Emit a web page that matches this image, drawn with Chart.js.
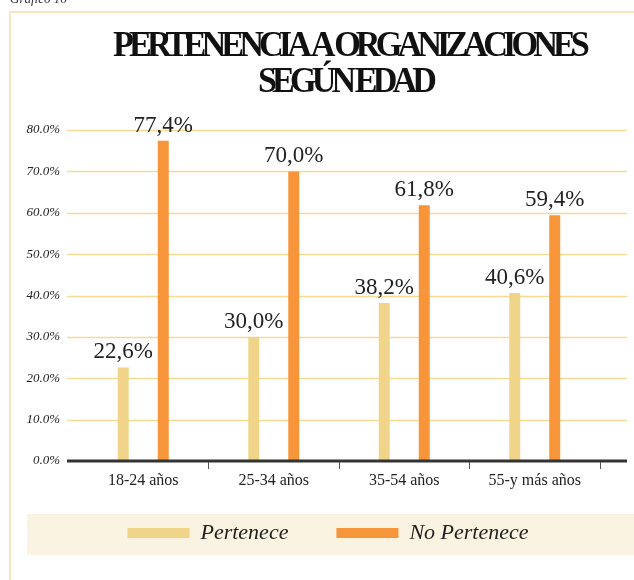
<!DOCTYPE html>
<html>
<head>
<meta charset="utf-8">
<script src="https://cdn.jsdelivr.net/npm/chart.js@4/dist/chart.umd.min.js"></script>
<style>
  html, body { margin: 0; padding: 0; background: #fff; }
  #wrap { position: relative; width: 634px; height: 580px; }
</style>
</head>
<body>
<div id="wrap"><canvas id="chart"></canvas></div>
<script>
// data
const categories = ['18-24 años', '25-34 años', '35-54 años', '55-y más años'];
const pertenece = [22.6, 30.0, 38.2, 40.6];
const noPertenece = [77.4, 70.0, 61.8, 59.4];
const seriesNames = ['Pertenece', 'No Pertenece'];
const yMax = 80;
const yStep = 10;
const titleLines = ['PERTENENCIA A ORGANIZACIONES', 'SEGÚN EDAD'];
const captionText = 'Gráfico 16';

const yellow = '#f0d48a';
const orange = '#f6953a';

// frame, legend band, caption and the squeezed title
const backdrop = {
  id: 'backdrop',
  afterLayout(chart) {
    // nudge the legend onto its band
    const lg = chart.legend;
    lg.left += 18;
    lg.right += 18;
    lg.top -= 19;
    lg.bottom -= 19;
  },
  beforeDraw(chart) {
    const ctx = chart.ctx;
    ctx.save();
    ctx.fillStyle = '#fff';
    ctx.fillRect(0, 0, chart.width, chart.height);

    ctx.strokeStyle = '#f7e6bd';
    ctx.lineWidth = 2;
    ctx.beginPath();
    ctx.moveTo(10, chart.height);
    ctx.lineTo(10, 12);
    ctx.lineTo(chart.width, 12);
    ctx.stroke();

    ctx.fillStyle = '#faf3e1';
    ctx.fillRect(27, 514, chart.width - 27, 41);

    ctx.fillStyle = '#333';
    ctx.font = 'italic 13px "Liberation Serif"';
    ctx.textBaseline = 'alphabetic';
    ctx.fillText(captionText, 10, 3);

    // title: heavy, tightly packed capitals
    const spots = [{ left: 113, right: 585, base: 56 }, { left: 258, right: 432, base: 92 }];
    ctx.fillStyle = '#111';
    ctx.font = 'bold 35px "Liberation Serif"';
    ctx.letterSpacing = '-5px';
    titleLines.forEach((line, i) => {
      const s = spots[i];
      const w = ctx.measureText(line).width;
      const sx = (s.right - s.left) / w;
      ctx.save();
      ctx.translate(s.left, s.base);
      ctx.scale(sx, 1);
      ctx.fillText(line, 0, 0);
      ctx.restore();
    });
    ctx.restore();
  },
  beforeDatasetsDraw(chart) {
    const ctx = chart.ctx;
    const y = chart.scales.y;
    ctx.save();
    ctx.strokeStyle = '#f5da92';
    ctx.lineWidth = 1.5;
    y.ticks.forEach(t => {
      if (t.value === 0) return;
      const py = Math.round(y.getPixelForValue(t.value)) + 0.5;
      ctx.beginPath();
      ctx.moveTo(67, py);
      ctx.lineTo(627, py);
      ctx.stroke();
    });
    ctx.restore();
  },
  afterDatasetsDraw(chart) {
    const ctx = chart.ctx;
    const y = chart.scales.y;
    ctx.save();
    // base line
    const py0 = y.getPixelForValue(0);
    ctx.strokeStyle = '#333';
    ctx.lineWidth = 3;
    ctx.beginPath();
    ctx.moveTo(67, py0);
    ctx.lineTo(627, py0);
    ctx.stroke();

    // value labels over the bars
    ctx.fillStyle = '#222';
    ctx.font = '23px "Liberation Serif"';
    ctx.textAlign = 'center';
    ctx.textBaseline = 'alphabetic';
    chart.data.datasets.forEach((ds, di) => {
      chart.getDatasetMeta(di).data.forEach((bar, i) => {
        const txt = ds.data[i].toFixed(1).replace('.', ',') + '%';
        ctx.fillText(txt, bar.x, bar.y - 9);
      });
    });
    ctx.restore();
  }
};

new Chart(document.getElementById('chart'), {
  type: 'bar',
  data: {
    labels: categories,
    datasets: [{
      label: seriesNames[0],
      data: pertenece,
      backgroundColor: yellow,
      borderWidth: 0
    }, {
      label: seriesNames[1],
      data: noPertenece,
      backgroundColor: orange,
      borderWidth: 0
    }]
  },
  options: {
    responsive: true,
    maintainAspectRatio: false,
    animation: false,
    categoryPercentage: 0.613,
    barPercentage: 0.275,
    layout: {
      padding: { top: 130, left: 20, right: 34, bottom: 7 }
    },
    plugins: {
      title: { display: false },
      tooltip: { enabled: false },
      legend: {
        position: 'bottom',
        labels: {
          boxWidth: 62,
          boxHeight: 10,
          padding: 48,
          color: '#222',
          font: { family: '"Liberation Serif"', size: 22, style: 'italic' }
        }
      }
    },
    scales: {
      x: {
        border: { display: false },
        grid: {
          drawOnChartArea: false,
          drawTicks: true,
          tickLength: 8,
          color: ctx => ctx.index === 0 ? 'rgba(0,0,0,0)' : '#555'
        },
        ticks: {
          padding: 2,
          color: '#222',
          font: { family: '"Liberation Serif"', size: 16 }
        },
        afterFit: s => { s.height = 32; }
      },
      y: {
        min: 0,
        max: yMax,
        border: { display: false },
        grid: { display: false, drawTicks: false },
        ticks: {
          stepSize: yStep,
          padding: 18,
          color: '#222',
          font: { family: '"Liberation Serif"', size: 13, style: 'italic' },
          callback: v => v.toFixed(1) + '%'
        },
        afterFit: s => { s.width = 58; }
      }
    }
  },
  plugins: [backdrop]
});
</script>
</body>
</html>
